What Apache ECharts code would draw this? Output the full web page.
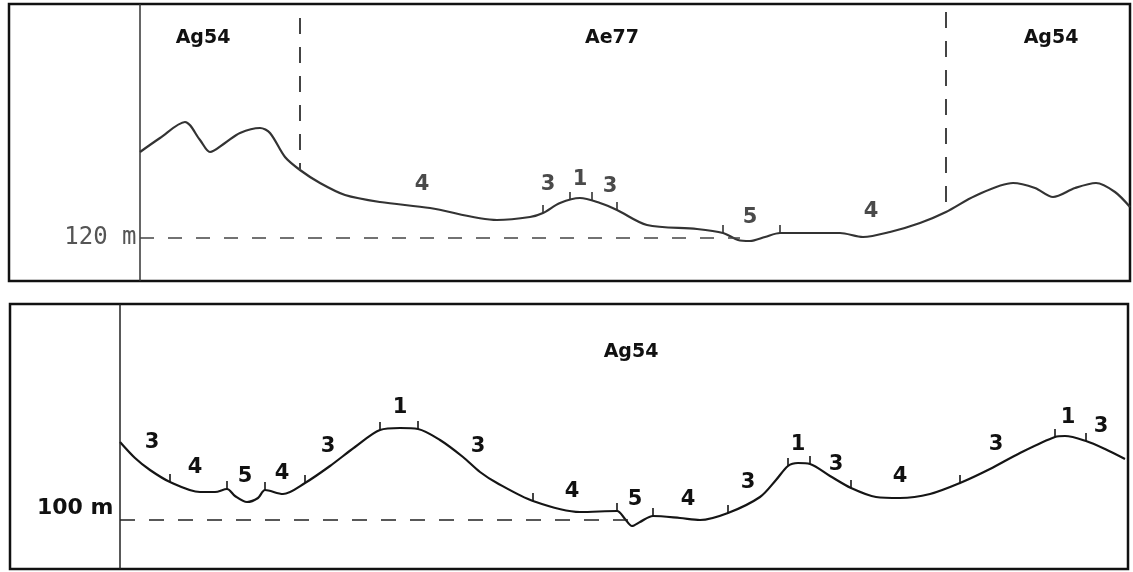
<!DOCTYPE html>
<html><head><meta charset="utf-8">
<script src="https://cdn.jsdelivr.net/npm/echarts@6/dist/echarts.min.js"></script>
<style>html,body{margin:0;padding:0;background:#fff}#c{width:1133px;height:572px}</style>
</head><body><div id="c"></div>
<script>
// ---------- Top profile (reference level 120 m) ----------
const topDist = [0,20,45,60,70,85,100,120,130,145,160,180,205,240,290,357,390,403,420,440,460,477,507,557,583,598,610,625,640,700,723,750,780,806,835,873,895,913,935,956,975,990];
const topElev = [137.2,140.0,143.2,139.6,137.2,139.0,141.0,142.0,141.0,136.2,133.6,131.0,128.6,127.2,126.0,123.6,124.2,125.0,127.0,128.0,127.0,125.6,122.6,121.8,121.0,119.6,119.4,120.2,121.0,121.0,120.2,121.2,123.0,125.2,128.4,131.0,130.0,128.2,130.0,131.0,129.2,126.2];
const topTickDist = [403,430,452,477,583,640];
const topTickElev = [125.0,127.6,127.6,125.6,121.0,121.0];
const topSegText = ['4','3','1','3','5','4'];
const topSegDist = [282,408,440,470,610,731];
const topSegElev = [130.6,130.6,131.6,130.2,124.0,125.2];
const topUnitText = ['Ag54','Ae77','Ag54'];
const topUnitDist = [63,472,911];
const topUnitElev = [160,160,160];
const topBoundDist = [160,806];
const topBoundTop = [164.0,165.2];
const topBoundBottom = [133.6,125.2];
const topRefLevel = 120, topRefEnd = 600;

// ---------- Bottom profile (reference level 100 m) ----------
const botDist = [0,15,30,50,80,95,107,115,127,138,145,163,185,210,235,260,280,298,320,343,360,377,413,460,497,505,512,520,533,560,580,608,640,656,668,678,690,710,731,756,780,810,840,870,900,935,945,966,985,1005];
const botElev = [115.6,112.4,110.0,107.6,105.6,105.6,106.2,104.8,103.6,104.4,106.0,105.2,107.4,110.8,114.6,118.0,118.4,118.2,116.0,112.6,109.6,107.4,103.8,101.6,101.8,100.2,98.8,99.6,100.8,100.4,100.0,101.4,104.6,108.0,110.8,111.4,111.2,108.8,106.4,104.6,104.4,105.2,107.4,110.2,113.4,116.6,116.8,115.8,114.2,112.2];
const botTickDist = [50,107,145,185,260,298,413,497,533,608,668,690,731,840,935,966];
const botTickElev = [107.6,106.2,106.0,107.4,118.0,118.2,103.8,101.8,100.8,101.4,110.8,111.2,106.4,107.4,116.6,115.8];
const botSegText = ['3','4','5','4','3','1','3','4','5','4','3','1','3','4','3','1','3'];
const botSegDist = [32,75,125,162,208,280,358,452,515,568,628,678,716,780,876,948,981];
const botSegElev = [115.4,110.4,108.6,109.2,114.6,122.4,114.6,105.6,104.0,104.0,107.4,115.0,111.0,108.6,115.0,120.4,118.6];
const botUnitText = ['Ag54'];
const botUnitDist = [511];
const botUnitElev = [133.6];
const botRefLevel = 100, botRefEnd = 512;

const pairs = (a,b) => a.map((v,i)=>[v,b[i]]);
const named = (t,a,b) => t.map((s,i)=>({name:s,value:[a[i],b[i]]}));

function textSeries(idx, data, font){
  return {type:'scatter', xAxisIndex:idx, yAxisIndex:idx, symbolSize:1, silent:true,
    itemStyle:{color:'rgba(0,0,0,0)', opacity:1}, data:data, z:5,
    label:{show:true, position:'inside', formatter:'{b}', textBorderWidth:0, ...font}};
}
function tickSeries(idx, data, color){
  return {type:'scatter', xAxisIndex:idx, yAxisIndex:idx, symbol:'rect', symbolSize:[1.6,8],
    symbolOffset:[0,-4], silent:true, itemStyle:{color:color, opacity:1}, data:data, z:4};
}

const option = {
  animation:false,
  backgroundColor:'#fff',
  grid:[
    {left:9, top:4, right:3, bottom:291, show:true, borderColor:'#111', borderWidth:2.5, backgroundColor:'#fff'},
    {left:10, top:304, right:5, bottom:3, show:true, borderColor:'#111', borderWidth:2.5, backgroundColor:'#fff'}
  ],
  xAxis:[
    {type:'value', gridIndex:0, min:-131, max:990, show:false},
    {type:'value', gridIndex:1, min:-110, max:1008, show:false}
  ],
  yAxis:[
    {type:'value', gridIndex:0, min:111.4, max:166.8, show:false},
    {type:'value', gridIndex:1, min:90.2, max:143.2, show:false}
  ],
  series:[
    // top profile line
    {type:'line', xAxisIndex:0, yAxisIndex:0, data:pairs(topDist,topElev), smooth:0.3,
      symbol:'none', lineStyle:{color:'#333', width:2.2}, z:3, silent:true,
      markLine:{silent:true, symbol:['none','none'], animation:false, label:{show:false},
        data:[
          [{coord:[0,111.4], lineStyle:{color:'#333',width:1.5,type:'solid'}},{coord:[0,166.8]}],
          [{coord:[0,topRefLevel], lineStyle:{color:'#444',width:1.6,type:[14,14]}},{coord:[topRefEnd,topRefLevel]}],
          [{coord:[topBoundDist[0],topBoundTop[0]], lineStyle:{color:'#444',width:2,type:[16,13]}},{coord:[topBoundDist[0],topBoundBottom[0]]}],
          [{coord:[topBoundDist[1],topBoundTop[1]], lineStyle:{color:'#444',width:2,type:[16,13]}},{coord:[topBoundDist[1],topBoundBottom[1]]}]
        ]}},
    tickSeries(0, pairs(topTickDist, topTickElev), '#333'),
    textSeries(0, named(topSegText, topSegDist, topSegElev), {fontFamily:'DejaVu Sans', fontWeight:'bold', fontSize:21, color:'#4a4a4a'}),
    textSeries(0, named(topUnitText, topUnitDist, topUnitElev), {fontFamily:'DejaVu Sans', fontWeight:'bold', fontSize:19, color:'#111'}),
    {type:'scatter', xAxisIndex:0, yAxisIndex:0, symbolSize:1, silent:true, itemStyle:{color:'rgba(0,0,0,0)', opacity:1},
      data:[{name:topRefLevel+' m', value:[-3, topRefLevel]}],
      label:{show:true, position:'left', distance:0, formatter:'{b}', fontFamily:'DejaVu Sans Mono', fontSize:24, color:'#555'}},

    // bottom profile line
    {type:'line', xAxisIndex:1, yAxisIndex:1, data:pairs(botDist,botElev), smooth:0.3,
      symbol:'none', lineStyle:{color:'#151515', width:2.2}, z:3, silent:true,
      markLine:{silent:true, symbol:['none','none'], animation:false, label:{show:false},
        data:[
          [{coord:[0,90.2], lineStyle:{color:'#222',width:1.5,type:'solid'}},{coord:[0,143.2]}],
          [{coord:[0,botRefLevel], lineStyle:{color:'#222',width:1.6,type:[15,14]}},{coord:[botRefEnd,botRefLevel]}]
        ]}},
    tickSeries(1, pairs(botTickDist, botTickElev), '#151515'),
    textSeries(1, named(botSegText, botSegDist, botSegElev), {fontFamily:'DejaVu Sans', fontWeight:'bold', fontSize:21, color:'#111'}),
    textSeries(1, named(botUnitText, botUnitDist, botUnitElev), {fontFamily:'DejaVu Sans', fontWeight:'bold', fontSize:19, color:'#111'}),
    {type:'scatter', xAxisIndex:1, yAxisIndex:1, symbolSize:1, silent:true, itemStyle:{color:'rgba(0,0,0,0)', opacity:1},
      data:[{name:botRefLevel+' m', value:[-6, 102.4]}],
      label:{show:true, position:'left', distance:0, formatter:'{b}', fontFamily:'DejaVu Sans', fontWeight:'bold', fontSize:22, color:'#111'}}
  ]
};
const chart = echarts.init(document.getElementById('c'), null, {renderer:'canvas'});
chart.setOption(option);
</script></body></html>
